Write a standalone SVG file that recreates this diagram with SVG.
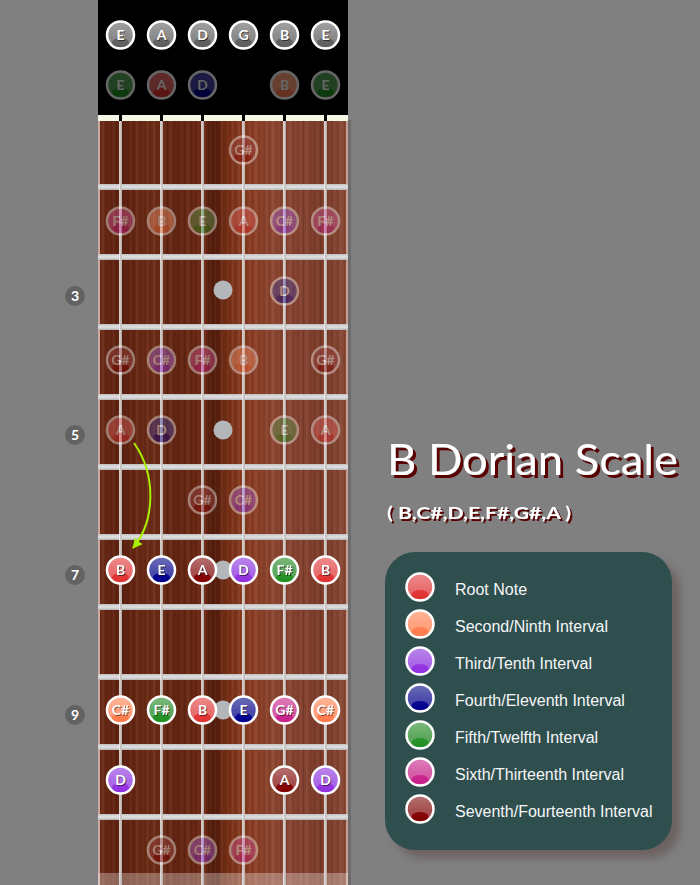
<svg xmlns="http://www.w3.org/2000/svg" width="700" height="885" viewBox="0 0 700 885">
<style>
.nt text{font-family:Lato,"Liberation Sans",sans-serif;font-weight:700;font-size:14px;text-anchor:middle}
.lbl{fill:#ffffff}
.sh{fill:#000000;opacity:.5}
.b{stroke:#ffffff;stroke-width:2.5}
.gl{fill:url(#gloss)}
.faded{opacity:.4}
.root .b{fill:#e86868}.root .d{fill:#e03232}
.second .b{fill:#ff9d78}.second .d{fill:#ff7b4c}
.third .b{fill:#a662e6}.third .d{fill:#9230e0}
.fourth .b{fill:#4242a6}.fourth .d{fill:#00008e}
.fifth .b{fill:#56a456}.fifth .d{fill:#229022}
.sixth .b{fill:#d456a4}.sixth .d{fill:#c8208a}
.seventh .b{fill:#a04646}.seventh .d{fill:#820000}
.open .b{fill:#858585}.open .d{fill:#5e5e5e}
.fret{fill:url(#fretg)}
.str{stroke:#f2f2f2;stroke-width:2.6}
.strc{stroke:#9a8c88;stroke-width:.9}
.inlay{fill:#b4b7ba}
.fn circle{fill:#626262}
.fn text{font-family:Lato,"Liberation Sans",sans-serif;font-weight:700;font-size:14px;fill:#ffffff;text-anchor:middle}
.lg text{font-family:"Liberation Sans",Arial,sans-serif;font-size:16px;fill:#f6f6f6}
.ttl{font-family:Lato,"Liberation Sans",sans-serif;fill:#ffffff;filter:url(#tshadow)}
</style>
<defs>
<linearGradient id="wood" gradientUnits="userSpaceOnUse" x1="98" y1="0" x2="348" y2="0">
<stop offset="0" stop-color="#6a2a16"/>
<stop offset="0.1" stop-color="#5e2210"/>
<stop offset="0.2" stop-color="#6c2c16"/>
<stop offset="0.3" stop-color="#632612"/>
<stop offset="0.42" stop-color="#6a2814"/>
<stop offset="0.47" stop-color="#521c0c"/>
<stop offset="0.52" stop-color="#7a3218"/>
<stop offset="0.6" stop-color="#8a3c22"/>
<stop offset="0.7" stop-color="#8c4630"/>
<stop offset="0.8" stop-color="#854230"/>
<stop offset="0.9" stop-color="#7c3c2a"/>
<stop offset="1" stop-color="#8a4a38"/>
</linearGradient>
<pattern id="grain" width="17" height="10" patternUnits="userSpaceOnUse" x="98">
<rect x="1" width="1" height="10" fill="#000" opacity=".14"/>
<rect x="4" width="2" height="10" fill="#fff" opacity=".05"/>
<rect x="8" width="1" height="10" fill="#000" opacity=".1"/>
<rect x="12" width="2" height="10" fill="#000" opacity=".07"/>
<rect x="15" width="1" height="10" fill="#fff" opacity=".05"/>
</pattern>
<linearGradient id="fretg" x1="0" y1="0" x2="0" y2="1">
<stop offset="0" stop-color="#c0c0c0"/>
<stop offset="0.5" stop-color="#e2e2e2"/>
<stop offset="1" stop-color="#b4b4b4"/>
</linearGradient>
<linearGradient id="gloss" x1="0" y1="0" x2="0" y2="1">
<stop offset="0" stop-color="#ffffff" stop-opacity=".22"/>
<stop offset="0.55" stop-color="#ffffff" stop-opacity=".05"/>
<stop offset="1" stop-color="#ffffff" stop-opacity="0"/>
</linearGradient>
<filter id="blur" x="-10%" y="-10%" width="120%" height="120%"><feGaussianBlur stdDeviation="4"/></filter>
<filter id="tshadow" x="-5%" y="-20%" width="115%" height="150%"><feDropShadow dx="3" dy="3" stdDeviation="0.3" flood-color="#5a0000" flood-opacity="1"/></filter>
<marker id="ah" viewBox="0 0 10 10" refX="9" refY="5" markerWidth="10" markerHeight="10" markerUnits="userSpaceOnUse" orient="auto">
<path d="M0,0 L10,5 L0,10 z" fill="#aaee00"/>
</marker>
</defs>

<rect width="700" height="885" fill="#808080"/>

<g id="headstock">
<rect x="98" y="0" width="250" height="115" fill="#000000"/>
</g>

<g id="fretboard">
<rect x="98" y="120" width="250" height="765" fill="url(#wood)"/>
<rect x="98" y="120" width="250" height="765" fill="url(#grain)"/>
<rect x="348" y="120" width="3" height="765" fill="#6c6c6c"/>
<line x1="99" y1="120" x2="99" y2="885" stroke="#f0d4d4" stroke-width="1.5"/>
<line x1="347" y1="120" x2="347" y2="885" stroke="#f0d4d4" stroke-width="1.2"/>
<rect x="98" y="115" width="250" height="6" fill="#f3f8e6"/>
<rect x="119" y="115" width="3" height="6" fill="#000"/>
<rect x="160" y="115" width="3" height="6" fill="#000"/>
<rect x="201" y="115" width="3" height="6" fill="#000"/>
<rect x="242" y="115" width="3" height="6" fill="#000"/>
<rect x="283" y="115" width="3" height="6" fill="#000"/>
<rect x="324" y="115" width="3" height="6" fill="#000"/>
<rect class="fret" x="98" y="184" width="250" height="6"/>
<rect class="fret" x="98" y="254" width="250" height="6"/>
<rect class="fret" x="98" y="324" width="250" height="6"/>
<rect class="fret" x="98" y="394" width="250" height="6"/>
<rect class="fret" x="98" y="464" width="250" height="6"/>
<rect class="fret" x="98" y="534" width="250" height="6"/>
<rect class="fret" x="98" y="604" width="250" height="6"/>
<rect class="fret" x="98" y="674" width="250" height="6"/>
<rect class="fret" x="98" y="744" width="250" height="6"/>
<rect class="fret" x="98" y="814" width="250" height="6"/>
<rect x="98" y="873" width="250" height="12" fill="#ffffff" opacity=".3"/>
<circle class="inlay" cx="223" cy="290" r="9.5"/>
<circle class="inlay" cx="223" cy="430" r="9.5"/>
<circle class="inlay" cx="223" cy="570" r="9.5"/>
<circle class="inlay" cx="223" cy="710" r="9.5"/>
</g>

<g id="strings">
<line class="str" x1="120.5" y1="121" x2="120.5" y2="885"/>
<line class="str" x1="161.5" y1="121" x2="161.5" y2="885"/>
<line class="str" x1="202.5" y1="121" x2="202.5" y2="885"/>
<line class="str" x1="243.5" y1="121" x2="243.5" y2="885"/>
<line class="str" x1="284.5" y1="121" x2="284.5" y2="885"/>
<line class="str" x1="325.5" y1="121" x2="325.5" y2="885"/>
<line class="strc" x1="121" y1="121" x2="121" y2="885"/>
<line class="strc" x1="162" y1="121" x2="162" y2="885"/>
<line class="strc" x1="203" y1="121" x2="203" y2="885"/>
<line class="strc" x1="244" y1="121" x2="244" y2="885"/>
<line class="strc" x1="285" y1="121" x2="285" y2="885"/>
<line class="strc" x1="326" y1="121" x2="326" y2="885"/>
</g>

<g id="fret-numbers">
<g id="fn3" class="fn" transform="translate(75,296)"><circle r="10"/><text y="5">3</text></g>
<g id="fn5" class="fn" transform="translate(75,435)"><circle r="10"/><text y="5">5</text></g>
<g id="fn7" class="fn" transform="translate(75,575)"><circle r="10"/><text y="5">7</text></g>
<g id="fn9" class="fn" transform="translate(75,715)"><circle r="10"/><text y="5">9</text></g>
</g>

<g id="open-strings">
<g id="o1" class="nt open" transform="translate(120.5,35)"><circle class="b" r="13.5"/><ellipse class="d" cy="7.5" rx="8.5" ry="4.5"/><circle class="gl" r="12"/><text class="sh" x="1" y="6">E</text><text class="lbl" y="5">E</text></g>
<g id="o2" class="nt open" transform="translate(161.5,35)"><circle class="b" r="13.5"/><ellipse class="d" cy="7.5" rx="8.5" ry="4.5"/><circle class="gl" r="12"/><text class="sh" x="1" y="6">A</text><text class="lbl" y="5">A</text></g>
<g id="o3" class="nt open" transform="translate(202.5,35)"><circle class="b" r="13.5"/><ellipse class="d" cy="7.5" rx="8.5" ry="4.5"/><circle class="gl" r="12"/><text class="sh" x="1" y="6">D</text><text class="lbl" y="5">D</text></g>
<g id="o4" class="nt open" transform="translate(243.5,35)"><circle class="b" r="13.5"/><ellipse class="d" cy="7.5" rx="8.5" ry="4.5"/><circle class="gl" r="12"/><text class="sh" x="1" y="6">G</text><text class="lbl" y="5">G</text></g>
<g id="o5" class="nt open" transform="translate(284.5,35)"><circle class="b" r="13.5"/><ellipse class="d" cy="7.5" rx="8.5" ry="4.5"/><circle class="gl" r="12"/><text class="sh" x="1" y="6">B</text><text class="lbl" y="5">B</text></g>
<g id="o6" class="nt open" transform="translate(325.5,35)"><circle class="b" r="13.5"/><ellipse class="d" cy="7.5" rx="8.5" ry="4.5"/><circle class="gl" r="12"/><text class="sh" x="1" y="6">E</text><text class="lbl" y="5">E</text></g>
</g>

<g id="faded-notes" class="faded">
<g id="p0s1" class="nt fifth" transform="translate(120.5,85)"><circle class="b" r="13.5"/><ellipse class="d" cy="7.5" rx="8.5" ry="4.5"/><text class="lbl" y="5">E</text></g>
<g id="p0s2" class="nt root" transform="translate(161.5,85)"><circle class="b" r="13.5"/><ellipse class="d" cy="7.5" rx="8.5" ry="4.5"/><text class="lbl" y="5">A</text></g>
<g id="p0s3" class="nt fourth" transform="translate(202.5,85)"><circle class="b" r="13.5"/><ellipse class="d" cy="7.5" rx="8.5" ry="4.5"/><text class="lbl" y="5">D</text></g>
<g id="p0s5" class="nt second" transform="translate(284.5,85)"><circle class="b" r="13.5"/><ellipse class="d" cy="7.5" rx="8.5" ry="4.5"/><text class="lbl" y="5">B</text></g>
<g id="p0s6" class="nt fifth" transform="translate(325.5,85)"><circle class="b" r="13.5"/><ellipse class="d" cy="7.5" rx="8.5" ry="4.5"/><text class="lbl" y="5">E</text></g>

<g id="p1s4" class="nt seventh" transform="translate(243.5,150)"><circle class="b" r="13.5"/><ellipse class="d" cy="7.5" rx="8.5" ry="4.5"/><text class="lbl" y="5">G#</text></g>

<g id="p2s1" class="nt sixth" transform="translate(120.5,221)"><circle class="b" r="13.5"/><ellipse class="d" cy="7.5" rx="8.5" ry="4.5"/><text class="lbl" y="5">F#</text></g>
<g id="p2s2" class="nt second" transform="translate(161.5,221)"><circle class="b" r="13.5"/><ellipse class="d" cy="7.5" rx="8.5" ry="4.5"/><text class="lbl" y="5">B</text></g>
<g id="p2s3" class="nt fifth" transform="translate(202.5,221)"><circle class="b" r="13.5"/><ellipse class="d" cy="7.5" rx="8.5" ry="4.5"/><text class="lbl" y="5">E</text></g>
<g id="p2s4" class="nt root" transform="translate(243.5,221)"><circle class="b" r="13.5"/><ellipse class="d" cy="7.5" rx="8.5" ry="4.5"/><text class="lbl" y="5">A</text></g>
<g id="p2s5" class="nt third" transform="translate(284.5,221)"><circle class="b" r="13.5"/><ellipse class="d" cy="7.5" rx="8.5" ry="4.5"/><text class="lbl" y="5">C#</text></g>
<g id="p2s6" class="nt sixth" transform="translate(325.5,221)"><circle class="b" r="13.5"/><ellipse class="d" cy="7.5" rx="8.5" ry="4.5"/><text class="lbl" y="5">F#</text></g>

<g id="p3s5" class="nt fourth" transform="translate(284.5,291)"><circle class="b" r="13.5"/><ellipse class="d" cy="7.5" rx="8.5" ry="4.5"/><text class="lbl" y="5">D</text></g>

<g id="p4s1" class="nt seventh" transform="translate(120.5,360)"><circle class="b" r="13.5"/><ellipse class="d" cy="7.5" rx="8.5" ry="4.5"/><text class="lbl" y="5">G#</text></g>
<g id="p4s2" class="nt third" transform="translate(161.5,360)"><circle class="b" r="13.5"/><ellipse class="d" cy="7.5" rx="8.5" ry="4.5"/><text class="lbl" y="5">C#</text></g>
<g id="p4s3" class="nt sixth" transform="translate(202.5,360)"><circle class="b" r="13.5"/><ellipse class="d" cy="7.5" rx="8.5" ry="4.5"/><text class="lbl" y="5">F#</text></g>
<g id="p4s4" class="nt second" transform="translate(243.5,360)"><circle class="b" r="13.5"/><ellipse class="d" cy="7.5" rx="8.5" ry="4.5"/><text class="lbl" y="5">B</text></g>
<g id="p4s6" class="nt seventh" transform="translate(325.5,360)"><circle class="b" r="13.5"/><ellipse class="d" cy="7.5" rx="8.5" ry="4.5"/><text class="lbl" y="5">G#</text></g>

<g id="p5s1" class="nt root" transform="translate(120.5,430)"><circle class="b" r="13.5"/><ellipse class="d" cy="7.5" rx="8.5" ry="4.5"/><text class="lbl" y="5">A</text></g>
<g id="p5s2" class="nt fourth" transform="translate(161.5,430)"><circle class="b" r="13.5"/><ellipse class="d" cy="7.5" rx="8.5" ry="4.5"/><text class="lbl" y="5">D</text></g>
<g id="p5s5" class="nt fifth" transform="translate(284.5,430)"><circle class="b" r="13.5"/><ellipse class="d" cy="7.5" rx="8.5" ry="4.5"/><text class="lbl" y="5">E</text></g>
<g id="p5s6" class="nt root" transform="translate(325.5,430)"><circle class="b" r="13.5"/><ellipse class="d" cy="7.5" rx="8.5" ry="4.5"/><text class="lbl" y="5">A</text></g>

<g id="p6s3" class="nt seventh" transform="translate(202.5,500)"><circle class="b" r="13.5"/><ellipse class="d" cy="7.5" rx="8.5" ry="4.5"/><text class="lbl" y="5">G#</text></g>
<g id="p6s4" class="nt third" transform="translate(243.5,500)"><circle class="b" r="13.5"/><ellipse class="d" cy="7.5" rx="8.5" ry="4.5"/><text class="lbl" y="5">C#</text></g>

<g id="p11s2" class="nt seventh" transform="translate(161.5,850)"><circle class="b" r="13.5"/><ellipse class="d" cy="7.5" rx="8.5" ry="4.5"/><text class="lbl" y="5">G#</text></g>
<g id="p11s3" class="nt third" transform="translate(202.5,850)"><circle class="b" r="13.5"/><ellipse class="d" cy="7.5" rx="8.5" ry="4.5"/><text class="lbl" y="5">C#</text></g>
<g id="p11s4" class="nt sixth" transform="translate(243.5,850)"><circle class="b" r="13.5"/><ellipse class="d" cy="7.5" rx="8.5" ry="4.5"/><text class="lbl" y="5">F#</text></g>
</g>

<g id="connectors">
<path d="M134,443 C156,474 156,520 133,548" fill="none" stroke="#aaee00" stroke-width="2" marker-end="url(#ah)"/>
</g>

<g id="scale-notes">
<g id="f7s1" class="nt root" transform="translate(120.5,570)"><circle class="b" r="13.5"/><ellipse class="d" cy="7.5" rx="8.5" ry="4.5"/><circle class="gl" r="12"/><text class="sh" x="1" y="6">B</text><text class="lbl" y="5">B</text></g>
<g id="f7s2" class="nt fourth" transform="translate(161.5,570)"><circle class="b" r="13.5"/><ellipse class="d" cy="7.5" rx="8.5" ry="4.5"/><circle class="gl" r="12"/><text class="sh" x="1" y="6">E</text><text class="lbl" y="5">E</text></g>
<g id="f7s3" class="nt seventh" transform="translate(202.5,570)"><circle class="b" r="13.5"/><ellipse class="d" cy="7.5" rx="8.5" ry="4.5"/><circle class="gl" r="12"/><text class="sh" x="1" y="6">A</text><text class="lbl" y="5">A</text></g>
<g id="f7s4" class="nt third" transform="translate(243.5,570)"><circle class="b" r="13.5"/><ellipse class="d" cy="7.5" rx="8.5" ry="4.5"/><circle class="gl" r="12"/><text class="sh" x="1" y="6">D</text><text class="lbl" y="5">D</text></g>
<g id="f7s5" class="nt fifth" transform="translate(284.5,570)"><circle class="b" r="13.5"/><ellipse class="d" cy="7.5" rx="8.5" ry="4.5"/><circle class="gl" r="12"/><text class="sh" x="1" y="6">F#</text><text class="lbl" y="5">F#</text></g>
<g id="f7s6" class="nt root" transform="translate(325.5,570)"><circle class="b" r="13.5"/><ellipse class="d" cy="7.5" rx="8.5" ry="4.5"/><circle class="gl" r="12"/><text class="sh" x="1" y="6">B</text><text class="lbl" y="5">B</text></g>

<g id="f9s1" class="nt second" transform="translate(120.5,710)"><circle class="b" r="13.5"/><ellipse class="d" cy="7.5" rx="8.5" ry="4.5"/><circle class="gl" r="12"/><text class="sh" x="1" y="6">C#</text><text class="lbl" y="5">C#</text></g>
<g id="f9s2" class="nt fifth" transform="translate(161.5,710)"><circle class="b" r="13.5"/><ellipse class="d" cy="7.5" rx="8.5" ry="4.5"/><circle class="gl" r="12"/><text class="sh" x="1" y="6">F#</text><text class="lbl" y="5">F#</text></g>
<g id="f9s3" class="nt root" transform="translate(202.5,710)"><circle class="b" r="13.5"/><ellipse class="d" cy="7.5" rx="8.5" ry="4.5"/><circle class="gl" r="12"/><text class="sh" x="1" y="6">B</text><text class="lbl" y="5">B</text></g>
<g id="f9s4" class="nt fourth" transform="translate(243.5,710)"><circle class="b" r="13.5"/><ellipse class="d" cy="7.5" rx="8.5" ry="4.5"/><circle class="gl" r="12"/><text class="sh" x="1" y="6">E</text><text class="lbl" y="5">E</text></g>
<g id="f9s5" class="nt sixth" transform="translate(284.5,710)"><circle class="b" r="13.5"/><ellipse class="d" cy="7.5" rx="8.5" ry="4.5"/><circle class="gl" r="12"/><text class="sh" x="1" y="6">G#</text><text class="lbl" y="5">G#</text></g>
<g id="f9s6" class="nt second" transform="translate(325.5,710)"><circle class="b" r="13.5"/><ellipse class="d" cy="7.5" rx="8.5" ry="4.5"/><circle class="gl" r="12"/><text class="sh" x="1" y="6">C#</text><text class="lbl" y="5">C#</text></g>

<g id="f10s1" class="nt third" transform="translate(120.5,780)"><circle class="b" r="13.5"/><ellipse class="d" cy="7.5" rx="8.5" ry="4.5"/><circle class="gl" r="12"/><text class="sh" x="1" y="6">D</text><text class="lbl" y="5">D</text></g>
<g id="f10s5" class="nt seventh" transform="translate(284.5,780)"><circle class="b" r="13.5"/><ellipse class="d" cy="7.5" rx="8.5" ry="4.5"/><circle class="gl" r="12"/><text class="sh" x="1" y="6">A</text><text class="lbl" y="5">A</text></g>
<g id="f10s6" class="nt third" transform="translate(325.5,780)"><circle class="b" r="13.5"/><ellipse class="d" cy="7.5" rx="8.5" ry="4.5"/><circle class="gl" r="12"/><text class="sh" x="1" y="6">D</text><text class="lbl" y="5">D</text></g>
</g>

<g id="title">
<text class="ttl" x="387" y="475" textLength="291" lengthAdjust="spacingAndGlyphs" font-size="43">B Dorian Scale</text>
<text class="ttl" x="387" y="519" textLength="184" lengthAdjust="spacingAndGlyphs" font-weight="700" font-size="17" style="filter:url(#tshadow2)">( B,C#,D,E,F#,G#,A )</text>
<filter id="tshadow2" x="-5%" y="-30%" width="115%" height="170%"><feDropShadow dx="2" dy="2" stdDeviation="0.3" flood-color="#5a0000" flood-opacity="1"/></filter>
</g>

<g id="legend" class="lg">
<rect x="393" y="560" width="287" height="298" rx="30" fill="#5e4e4e" opacity=".6" filter="url(#blur)"/>
<rect x="385" y="552" width="287" height="298" rx="30" fill="#2f4f4f"/>
<g id="lg-root" class="nt root" transform="translate(420,587)"><circle class="b" r="13.5"/><ellipse class="d" cy="7.5" rx="8.5" ry="4.5"/><circle class="gl" r="12"/></g>
<text x="455" y="595">Root Note</text>
<g id="lg-second" class="nt second" transform="translate(420,624)"><circle class="b" r="13.5"/><ellipse class="d" cy="7.5" rx="8.5" ry="4.5"/><circle class="gl" r="12"/></g>
<text x="455" y="632">Second/Ninth Interval</text>
<g id="lg-third" class="nt third" transform="translate(420,661)"><circle class="b" r="13.5"/><ellipse class="d" cy="7.5" rx="8.5" ry="4.5"/><circle class="gl" r="12"/></g>
<text x="455" y="669">Third/Tenth Interval</text>
<g id="lg-fourth" class="nt fourth" transform="translate(420,698)"><circle class="b" r="13.5"/><ellipse class="d" cy="7.5" rx="8.5" ry="4.5"/><circle class="gl" r="12"/></g>
<text x="455" y="706">Fourth/Eleventh Interval</text>
<g id="lg-fifth" class="nt fifth" transform="translate(420,735)"><circle class="b" r="13.5"/><ellipse class="d" cy="7.5" rx="8.5" ry="4.5"/><circle class="gl" r="12"/></g>
<text x="455" y="743">Fifth/Twelfth Interval</text>
<g id="lg-sixth" class="nt sixth" transform="translate(420,772)"><circle class="b" r="13.5"/><ellipse class="d" cy="7.5" rx="8.5" ry="4.5"/><circle class="gl" r="12"/></g>
<text x="455" y="780">Sixth/Thirteenth Interval</text>
<g id="lg-seventh" class="nt seventh" transform="translate(420,809)"><circle class="b" r="13.5"/><ellipse class="d" cy="7.5" rx="8.5" ry="4.5"/><circle class="gl" r="12"/></g>
<text x="455" y="817">Seventh/Fourteenth Interval</text>
</g>
</svg>
